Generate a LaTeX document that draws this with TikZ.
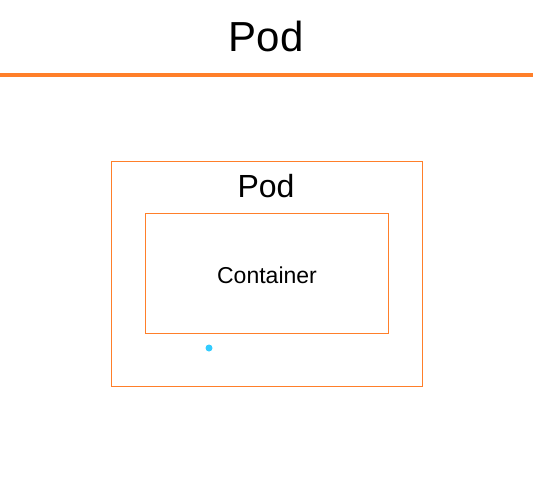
\documentclass[tikz,border=0pt]{standalone}
\usepackage{fontspec}
\setmainfont{Liberation Sans}
\definecolor{podorange}{RGB}{255,127,42}
\definecolor{dotcyan}{RGB}{51,204,255}
\begin{document}
\begin{tikzpicture}[x=1pt,y=-1pt,
  box/.style={draw=podorange,line width=1pt},
  lbl/.style={inner sep=0pt,anchor=base}]
\useasboundingbox (0,0) rectangle (533,477);
\node[lbl,font=\fontsize{42}{48}\selectfont] (title) at (266,51) {Pod};
\coordinate (ll) at (0,74.5);
\coordinate (lr) at (533,74.5);
\draw[podorange,line width=4pt] (ll) -- (lr);
\draw[box] (111,161) rectangle (422,386);
\node[lbl,font=\fontsize{32}{38}\selectfont] (pod) at (266,197) {Pod};
\draw[box] (145.5,213) rectangle (388,333);
\node[lbl,font=\fontsize{23}{28}\selectfont] (container) at (267,283) {Container};
\fill[dotcyan] (209,348) circle (3.5);
\end{tikzpicture}
\end{document}
